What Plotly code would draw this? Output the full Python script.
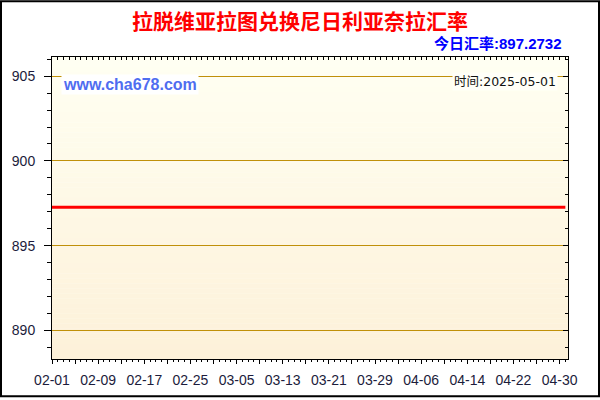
import pandas as pd
import plotly.graph_objects as go

# data (the rate looks flat over the whole period)
dates = ["2025-02-01", "2025-02-15", "2025-03-01", "2025-03-15",
         "2025-04-01", "2025-04-15", "2025-05-01"]
rates = [897.2732, 897.2732, 897.2732, 897.2732, 897.2732, 897.2732, 897.2732]

x_tick_labels = ["02-01", "02-09", "02-17", "02-25", "03-05", "03-13",
                 "03-21", "03-29", "04-06", "04-14", "04-22", "04-30"]
y_tick_vals = [890, 895, 900, 905]

title_text = "拉脱维亚拉图兑换尼日利亚奈拉汇率"
today_text = "今日汇率:897.2732"
date_text = "时间:2025-05-01"
site_text = "www.cha678.com"

# page / plot box in pixels
W, H = 600, 400
L, R, T, B = 52, 32, 57, 39
pw, ph = W - L - R, H - T - B

x_range = ["2025-02-01", "2025-05-01 11:00"]
y_range = [888.32, 906.13]

# ticks every 4 days, label on every other one
tick_dates = pd.date_range("2025-02-01", "2025-04-30", freq="4D")
tick_text = []
for i, d in enumerate(tick_dates):
    tick_text.append(x_tick_labels[i // 2] if i % 2 == 0 else "")


def px_x(p):
    return (p - L) / pw


def px_y(p):
    return (H - B - p) / ph


fig = go.Figure()
fig.add_trace(go.Scatter(x=dates, y=rates, mode="lines",
                         line=dict(color="#FF0000", width=3),
                         hoverinfo="x+y", showlegend=False))

# vertical gradient background, made of thin bands
shapes = []
top_c = (255, 255, 242)
bot_c = (253, 241, 217)
n = 60
for i in range(n):
    t = i / (n - 1)
    c = tuple(round(top_c[k] + (bot_c[k] - top_c[k]) * t) for k in range(3))
    shapes.append(dict(type="rect", xref="x domain", yref="y domain",
                       x0=0, x1=1, y0=1 - (i + 1) / n, y1=1 - i / n + 0.001,
                       fillcolor="rgb(%d,%d,%d)" % c, line=dict(width=0),
                       layer="below"))

# outer black frame around the whole picture
shapes.append(dict(type="rect", xref="paper", yref="paper",
                   x0=px_x(1), x1=px_x(599), y0=px_y(398.5), y1=px_y(1),
                   line=dict(color="black", width=2)))

tick_font = dict(family="Liberation Sans, Arial", size=14, color="#1c1c3c")

fig.update_layout(
    width=W, height=H,
    margin=dict(l=L, r=R, t=T, b=B),
    paper_bgcolor="white",
    plot_bgcolor="white",
    shapes=shapes,
    title=dict(text="<b>" + title_text + "</b>", x=0.5, xanchor="center",
               y=1 - 22 / H, yanchor="middle",
               font=dict(family="Noto Sans CJK SC", size=21, color="#FF0000")),
    xaxis=dict(type="date", range=x_range,
               tickmode="array", tickvals=list(tick_dates), ticktext=tick_text,
               ticks="outside", ticklen=4, tickcolor="black", tickwidth=1,
               minor=dict(tickmode="linear", tick0="2025-02-01", dtick=86400000,
                          ticks="outside", ticklen=2, tickcolor="black"),
               showgrid=False, showline=True, linecolor="black", linewidth=1,
               mirror=True, zeroline=False, tickfont=tick_font,
               ticklabelstandoff=4, fixedrange=True),
    yaxis=dict(range=y_range, tickmode="array", tickvals=y_tick_vals,
               ticks="outside", ticklen=7, tickcolor="black", tickwidth=1,
               minor=dict(tickmode="linear", tick0=890, dtick=1,
                          ticks="outside", ticklen=4, tickcolor="black"),
               showgrid=True, gridcolor="#C0900A", gridwidth=1,
               showline=True, linecolor="black", linewidth=1, mirror=True,
               zeroline=False, tickfont=tick_font, ticklabelstandoff=6,
               fixedrange=True),
    # inside ticks on the top and right edges
    xaxis2=dict(type="date", range=x_range, overlaying="x", side="top",
                tickmode="linear", tick0="2025-02-01", dtick=86400000,
                ticks="inside", ticklen=3, tickcolor="black",
                showticklabels=False, showgrid=False, showline=False,
                zeroline=False, fixedrange=True),
    yaxis2=dict(range=y_range, overlaying="y", side="right",
                tickmode="array", tickvals=y_tick_vals,
                ticks="inside", ticklen=5, tickcolor="black",
                minor=dict(tickmode="linear", tick0=890, dtick=1,
                           ticks="inside", ticklen=3, tickcolor="black"),
                showticklabels=False, showgrid=False, showline=False,
                zeroline=False, fixedrange=True),
    annotations=[
        dict(text="<b>" + today_text + "</b>", xref="paper", yref="paper",
             x=px_x(564), y=px_y(43), xanchor="right", yanchor="middle",
             showarrow=False,
             font=dict(family="Liberation Sans, Noto Sans CJK SC", size=15,
                       color="#0000FF")),
        dict(text="<b>" + site_text + "</b>", xref="paper", yref="paper",
             x=px_x(61), y=px_y(85), xanchor="left", yanchor="middle",
             showarrow=False, bgcolor="white", borderpad=1,
             font=dict(family="Liberation Sans, Arial", size=16,
                       color="#4F6DF0")),
        dict(text=date_text, xref="paper", yref="paper",
             x=px_x(558), y=px_y(82), xanchor="right", yanchor="middle",
             showarrow=False, bgcolor="#FFFFF8", borderpad=1,
             font=dict(family="DejaVu Sans, Noto Sans CJK SC", size=12.5,
                       color="#111111")),
    ],
)

# a hidden trace so the overlay axes get drawn
fig.add_trace(go.Scatter(x=[dates[0]], y=[rates[0]], xaxis="x2", yaxis="y2",
                         mode="markers", marker=dict(opacity=0),
                         hoverinfo="skip", showlegend=False))

# the page has an 8px body margin by default, drop it
fig.write_html("out.html", config={"displayModeBar": False},
               post_script="document.body.style.margin='0';")
